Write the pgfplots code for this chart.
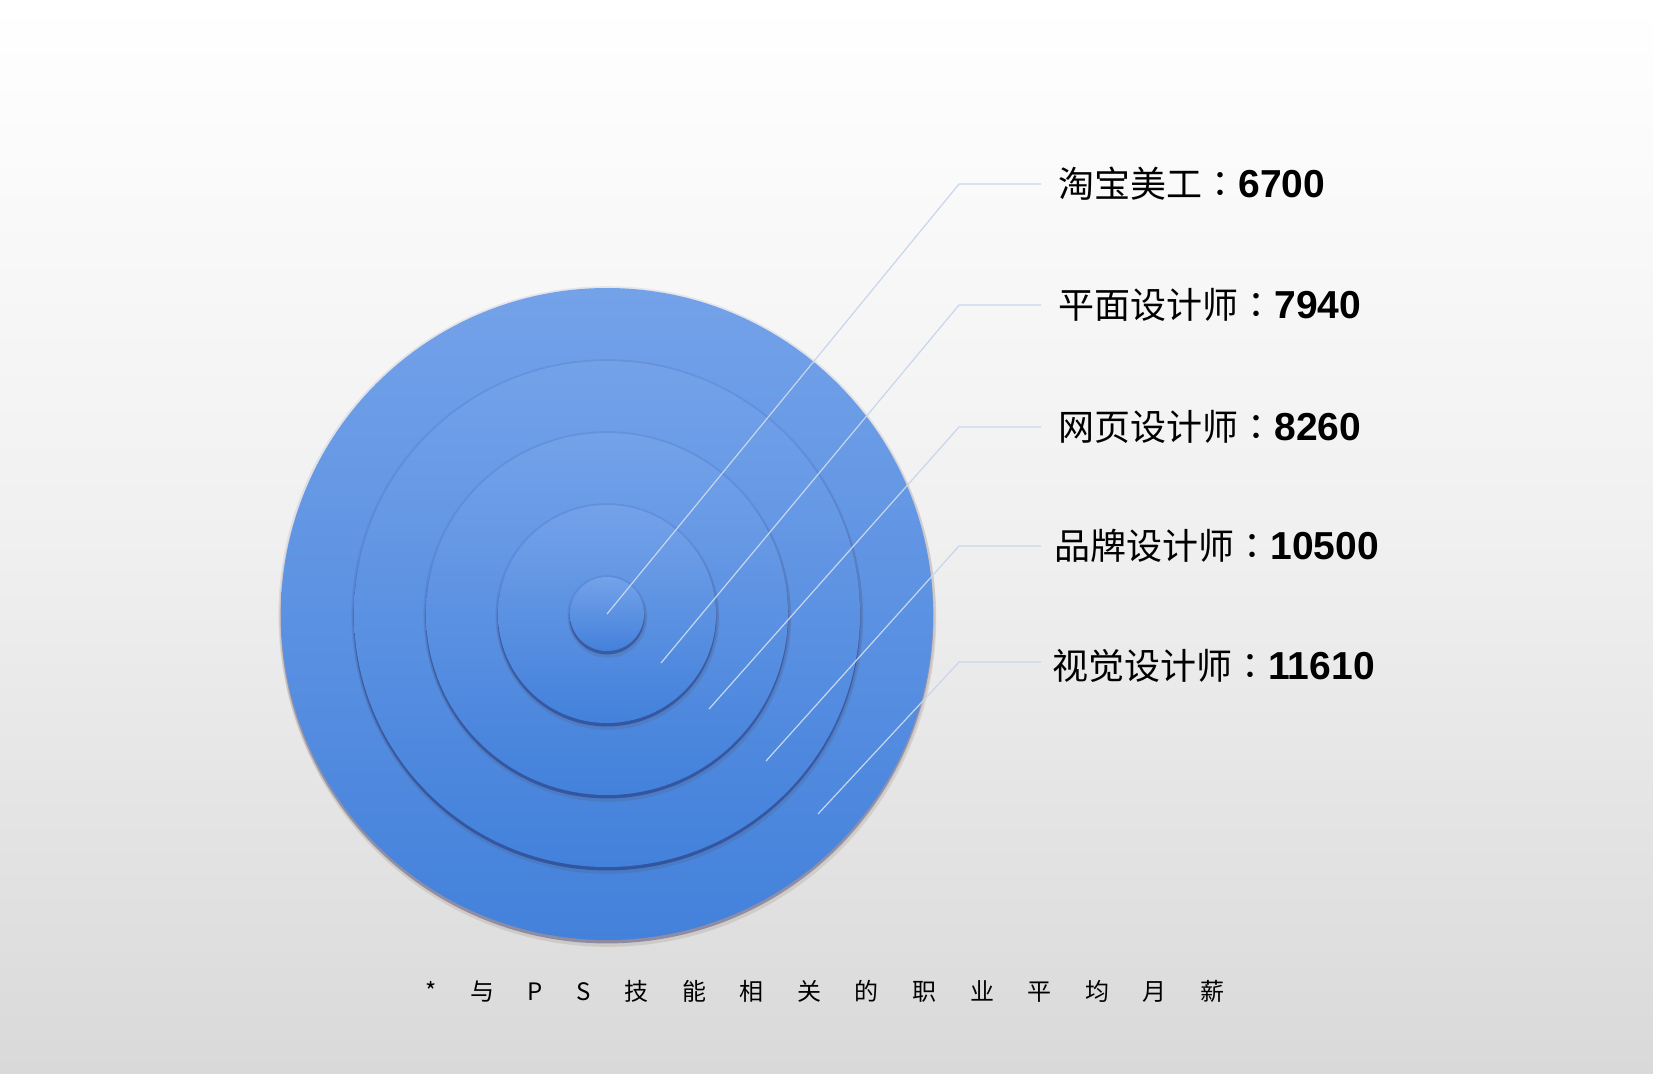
\documentclass[border=0pt]{standalone}
\usepackage{pgfplots}
\pgfplotsset{compat=1.18}
\usepackage{pgfplotstable}
\usepackage{fontspec}
\setmainfont{Liberation Sans}
\newfontfamily\cjk{Noto Sans CJK SC}
\newfontfamily\cjktc{Noto Sans CJK TC}
\definecolor{ringtop}{RGB}{116,162,233}
\definecolor{ringbot}{RGB}{67,129,219}
\definecolor{leader}{RGB}{200,214,236}
\definecolor{bgbot}{RGB}{217,217,217}
\definecolor{bgmid}{RGB}{240,240,240}

% rings: centre (px) and drawn radius (px), outermost first
\pgfplotstableread{
x   y   r    value
607 614 326  11610
607 614 253  10500
607 614 181  8260
607 614 109  7940
607 614 37   6700
}\rings

\newcommand\lbl[2]{{\cjk\fontsize{18}{20}\selectfont #1}{\cjktc\fontsize{18}{20}\selectfont ：}{\fontsize{19.5}{22}\selectfont\bfseries #2}}
\newcommand\gap{\hspace{16.8pt}}

\begin{document}
\begin{tikzpicture}
\begin{axis}[
  width=826.5pt, height=536.5pt, scale only axis,
  xmin=0, xmax=1653, ymin=0, ymax=1073, y dir=reverse,
  hide axis, clip=false, clip marker paths=true,
]
\shade[draw=none, top color=white, bottom color=bgbot, middle color=bgmid] (rel axis cs:0,0) rectangle (rel axis cs:1,1);

\addplot[scatter, only marks, mark=*, mark size=0.1pt,
  visualization depends on={\thisrow{r} \as \rr},
  scatter/@pre marker code/.code={%
    \fill[draw=none, black!60!blue, opacity=0.07] (0,-0.4pt) circle[radius=\rr*0.5pt+1.3pt];
    \fill[draw=none, black!55!brown, opacity=0.12] (0.4pt,-2.2pt) circle[radius=\rr*0.5pt+1.2pt];
    \fill[draw=none, black!70!blue, opacity=0.25] (0,-1.5pt) circle[radius=\rr*0.5pt+0.2pt];
    \shade[draw=none, top color=ringtop, bottom color=ringbot] (0,0) circle[radius=\rr*0.5pt];
    \scope[opacity=0]%
  },
  scatter/@post marker code/.code={\endscope},
] table[x=x,y=y] {\rings};

\addplot[leader, line width=0.6pt] coordinates {(607,614) (959,184) (1041,184)};
\addplot[leader, line width=0.6pt] coordinates {(661,663) (959,305) (1041,305)};
\addplot[leader, line width=0.6pt] coordinates {(709,709) (959,427) (1041,427)};
\addplot[leader, line width=0.6pt] coordinates {(766,761) (959,546) (1041,546)};
\addplot[leader, line width=0.6pt] coordinates {(818,814) (959,662) (1041,662)};

\node[anchor=west, inner sep=0pt] at (axis cs:1058,184) {\lbl{淘宝美工}{6700}};
\node[anchor=west, inner sep=0pt] at (axis cs:1058,305) {\lbl{平面设计师}{7940}};
\node[anchor=west, inner sep=0pt] at (axis cs:1058,427) {\lbl{网页设计师}{8260}};
\node[anchor=west, inner sep=0pt] at (axis cs:1054,546) {\lbl{品牌设计师}{10500}};
\node[anchor=west, inner sep=0pt] at (axis cs:1052,666) {\lbl{视觉设计师}{11610}};

\node[anchor=center, inner sep=0pt] at (axis cs:825,991) {\cjk\fontsize{12}{14}\selectfont *\gap 与\gap P\gap S\gap 技\gap 能\gap 相\gap 关\gap 的\gap 职\gap 业\gap 平\gap 均\gap 月\gap 薪};
\end{axis}
\end{tikzpicture}
\end{document}
